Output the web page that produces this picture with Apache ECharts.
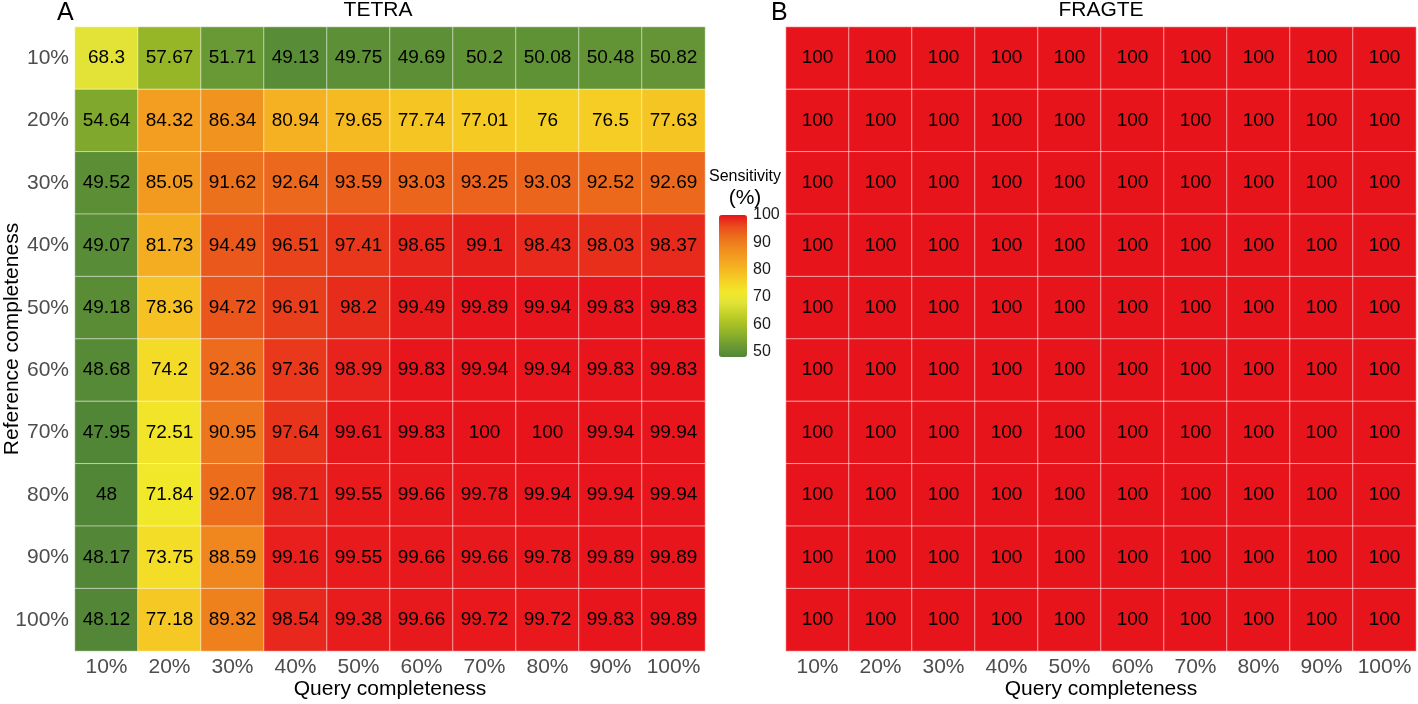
<!DOCTYPE html>
<html><head><meta charset="utf-8">
<script src="https://cdn.jsdelivr.net/npm/echarts@6/dist/echarts.min.js"></script>
<style>html,body{margin:0;padding:0;background:#fff}#c{width:1418px;height:704px}</style>
</head><body><div id="c"></div>
<script>
const queryCats = ['10%','20%','30%','40%','50%','60%','70%','80%','90%','100%'];
const refCats   = ['10%','20%','30%','40%','50%','60%','70%','80%','90%','100%'];
// rows = reference completeness, columns = query completeness
const tetra = [
  [68.3, 57.67, 51.71, 49.13, 49.75, 49.69, 50.2, 50.08, 50.48, 50.82],
  [54.64, 84.32, 86.34, 80.94, 79.65, 77.74, 77.01, 76, 76.5, 77.63],
  [49.52, 85.05, 91.62, 92.64, 93.59, 93.03, 93.25, 93.03, 92.52, 92.69],
  [49.07, 81.73, 94.49, 96.51, 97.41, 98.65, 99.1, 98.43, 98.03, 98.37],
  [49.18, 78.36, 94.72, 96.91, 98.2, 99.49, 99.89, 99.94, 99.83, 99.83],
  [48.68, 74.2, 92.36, 97.36, 98.99, 99.83, 99.94, 99.94, 99.83, 99.83],
  [47.95, 72.51, 90.95, 97.64, 99.61, 99.83, 100, 100, 99.94, 99.94],
  [48, 71.84, 92.07, 98.71, 99.55, 99.66, 99.78, 99.94, 99.94, 99.94],
  [48.17, 73.75, 88.59, 99.16, 99.55, 99.66, 99.66, 99.78, 99.89, 99.89],
  [48.12, 77.18, 89.32, 98.54, 99.38, 99.66, 99.72, 99.72, 99.83, 99.89]
];
const fragte = [
  [100,100,100,100,100,100,100,100,100,100],
  [100,100,100,100,100,100,100,100,100,100],
  [100,100,100,100,100,100,100,100,100,100],
  [100,100,100,100,100,100,100,100,100,100],
  [100,100,100,100,100,100,100,100,100,100],
  [100,100,100,100,100,100,100,100,100,100],
  [100,100,100,100,100,100,100,100,100,100],
  [100,100,100,100,100,100,100,100,100,100],
  [100,100,100,100,100,100,100,100,100,100],
  [100,100,100,100,100,100,100,100,100,100]
];
const legendTicks = [50, 60, 70, 80, 90, 100];
const scaleMin = 47.95, scaleMax = 100;

function toCells(m){
  const out=[];
  m.forEach((row,r)=>row.forEach((v,c)=>out.push([c,r,v])));
  return out;
}
const FONT = 'Liberation Sans, Arial, sans-serif';
const chart = echarts.init(document.getElementById('c'), null, {renderer:'canvas'});

function catX(gi){
  return {type:'category', gridIndex:gi, data:queryCats,
    axisLine:{show:false}, axisTick:{show:false}, splitLine:{show:false},
    axisLabel:{interval:0, color:'#4d4d4d', fontSize:21, fontFamily:FONT, margin:6},
    name:'Query completeness', nameLocation:'middle', nameGap:28, nameMoveOverlap:false,
    nameTextStyle:{color:'#000', fontSize:21, fontFamily:FONT}};
}
function catY(gi, showLabels){
  return {type:'category', gridIndex:gi, data:refCats, inverse:true,
    axisLine:{show:false}, axisTick:{show:false}, splitLine:{show:false},
    axisLabel:{interval:0, show:showLabels, color:'#4d4d4d', fontSize:21, fontFamily:FONT, margin:6},
    name: showLabels ? 'Reference completeness' : '', nameLocation:'middle', nameGap:52, nameMoveOverlap:false,
    nameTextStyle:{color:'#000', fontSize:21, fontFamily:FONT}};
}
const cellLabel = {show:true, color:'#000', fontSize:19, fontFamily:FONT};
const cellStyle = {borderColor:'rgba(255,255,255,0.55)', borderWidth:1};

chart.setOption({
  animation:false,
  backgroundColor:'#fff',
  grid:[
    {left:75, top:27, width:630, height:624, outerBoundsMode:'none', containLabel:false},
    {left:786, top:27, width:630, height:624, outerBoundsMode:'none', containLabel:false},
    {left:719, top:215, width:28, height:142, outerBoundsMode:'none', containLabel:false}
  ],
  xAxis:[catX(0), catX(1),
    {type:'value', gridIndex:2, show:false, min:0, max:1}],
  yAxis:[catY(0,true), catY(1,false),
    {type:'value', gridIndex:2, min:scaleMin, max:scaleMax, position:'right',
     axisLine:{show:false}, splitLine:{show:false}, axisTick:{show:false},
     axisLabel:{show:true, color:'#1a1a1a', fontSize:16, fontFamily:FONT, margin:6, customValues:legendTicks}}
  ],
  visualMap:{
    type:'continuous', min:scaleMin, max:scaleMax, seriesIndex:[0,1],
    calculable:false, hoverLink:false, realtime:false,
    left:719, top:215, itemWidth:28, itemHeight:142, padding:0,
    text:null,
    inRange:{color:['#528637','#6b9a34','#8aaf2a','#a8c024','#c5d22a','#e2e338','#f2e82a','#f5d024','#f5b722','#f3a020','#f08a1e','#ec6e1c','#e94a1c','#e8141c']}
  },
  graphic:[
    {type:'text', left:57, top:1, style:{text:'A', fontSize:25, fontFamily:FONT, fill:'#000'}},
    {type:'text', left:771, top:1, style:{text:'B', fontSize:25, fontFamily:FONT, fill:'#000'}},
    {type:'text', x:378, y:0, style:{text:'TETRA', fontSize:21, fontFamily:FONT, fill:'#000', align:'center'}},
    {type:'text', x:1101, y:0, style:{text:'FRAGTE', fontSize:21, fontFamily:FONT, fill:'#000', align:'center'}},
    {type:'text', x:745, y:169, style:{text:'Sensitivity', fontSize:16, fontFamily:FONT, fill:'#000', align:'center'}},
    {type:'text', x:745, y:188, style:{text:'(%)', fontSize:21, fontFamily:FONT, fill:'#000', align:'center'}}
  ],
  series:[
    {type:'heatmap', xAxisIndex:0, yAxisIndex:0, data:toCells(tetra), label:cellLabel, itemStyle:cellStyle, emphasis:{disabled:true}},
    {type:'heatmap', xAxisIndex:1, yAxisIndex:1, data:toCells(fragte), label:cellLabel, itemStyle:cellStyle, emphasis:{disabled:true}},
    {type:'scatter', xAxisIndex:2, yAxisIndex:2, data:[], silent:true}
  ]
});
</script></body></html>
